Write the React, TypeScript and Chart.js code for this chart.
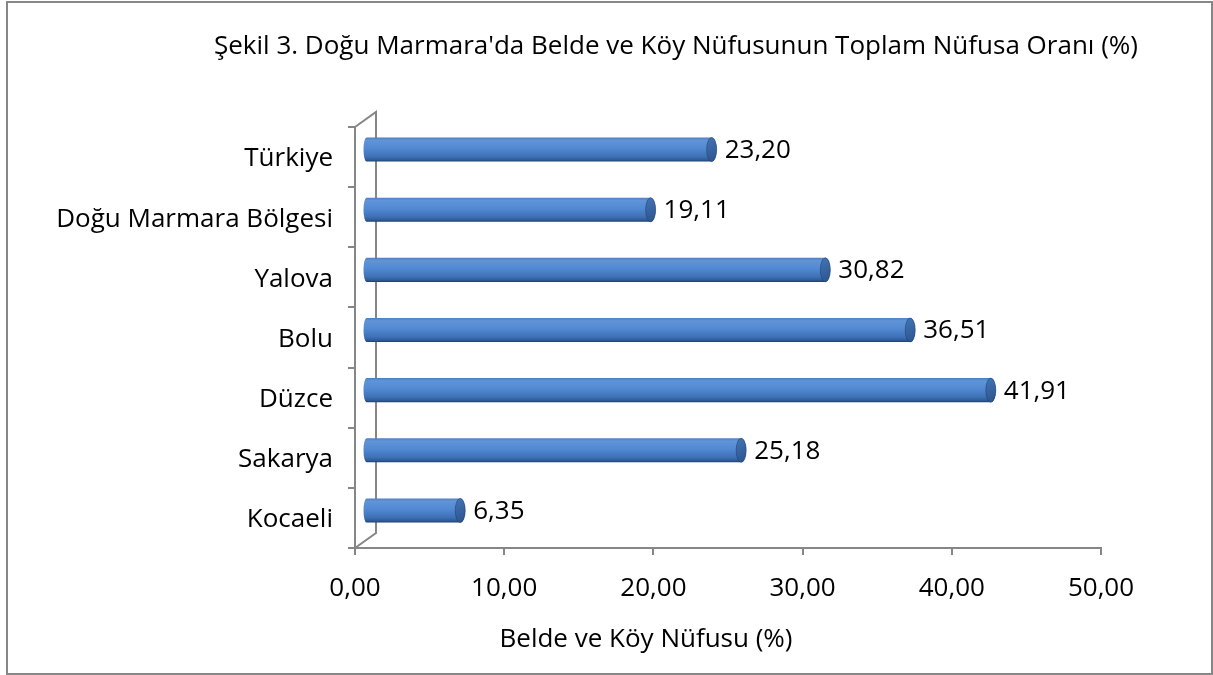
import React, { useEffect, useRef } from "react";
import { Chart, registerables } from "chart.js";

Chart.register(...registerables);

const categories = [
  "Türkiye",
  "Doğu Marmara Bölgesi",
  "Yalova",
  "Bolu",
  "Düzce",
  "Sakarya",
  "Kocaeli",
];
const values = [23.2, 19.11, 30.82, 36.51, 41.91, 25.18, 6.35];
const xMin = 0;
const xMax = 50;
const xStep = 10;
const titleText =
  "Şekil 3. Doğu Marmara'da Belde ve Köy Nüfusunun Toplam Nüfusa Oranı (%)";
const axisTitleText = "Belde ve Köy Nüfusu (%)";

const FONT = "'Open Sans', 'Noto Sans', sans-serif";
const FONT_SIZE = 26;
const GRAY = "#868686";

const fmt = (v: number) => v.toFixed(2).replace(".", ",");

export default function App() {
  const ref = useRef<HTMLCanvasElement | null>(null);

  useEffect(() => {
    if (!ref.current) return;
    const wallDx = 21;
    const wallDy = -15;
    const barDx = wallDx / 2;
    const barDy = wallDy / 2;

    const decor = {
      id: "decor",
      beforeDatasetsDraw(chart: any) {
        const { ctx, chartArea } = chart;
        const { left, top, bottom } = chartArea;
        ctx.save();
        ctx.strokeStyle = GRAY;
        ctx.lineWidth = 2;
        ctx.beginPath();
        ctx.moveTo(left, top);
        ctx.lineTo(left + wallDx, top + wallDy);
        ctx.lineTo(left + wallDx, bottom + wallDy);
        ctx.lineTo(left, bottom);
        ctx.stroke();
        ctx.restore();
      },
      afterDatasetsDraw(chart: any) {
        const { ctx } = chart;
        const meta = chart.getDatasetMeta(0);
        ctx.save();
        meta.data.forEach((el: any, i: number) => {
          const p = el.getProps(["x", "y", "base", "height"], true);
          const x0 = p.base + barDx;
          const x1 = p.x + barDx;
          const yc = p.y + barDy;
          const ry = p.height / 2;
          const rx = 5;
          const g = ctx.createLinearGradient(0, yc - ry, 0, yc + ry);
          g.addColorStop(0, "#4f7fc0");
          g.addColorStop(0.12, "#6194d8");
          g.addColorStop(0.45, "#5189d2");
          g.addColorStop(0.78, "#3f72b7");
          g.addColorStop(0.92, "#305d9a");
          g.addColorStop(1, "#223f6a");
          ctx.beginPath();
          ctx.moveTo(x0, yc - ry);
          ctx.lineTo(x1, yc - ry);
          ctx.ellipse(x1, yc, rx, ry, 0, -Math.PI / 2, Math.PI / 2);
          ctx.lineTo(x0, yc + ry);
          ctx.ellipse(x0, yc, rx * 0.6, ry, 0, Math.PI / 2, (Math.PI * 3) / 2);
          ctx.closePath();
          ctx.fillStyle = g;
          ctx.fill();
          // right cap
          const gc = ctx.createLinearGradient(x1 - rx, yc - ry, x1 + rx, yc + ry);
          gc.addColorStop(0, "#4474b5");
          gc.addColorStop(1, "#2b548c");
          ctx.beginPath();
          ctx.ellipse(x1, yc, rx, ry, 0, 0, Math.PI * 2);
          ctx.fillStyle = gc;
          ctx.fill();
          ctx.strokeStyle = "rgba(30,60,100,0.5)";
          ctx.lineWidth = 1;
          ctx.stroke();
          // data label
          ctx.fillStyle = "#000";
          ctx.font = `${FONT_SIZE}px ${FONT}`;
          ctx.textAlign = "left";
          ctx.textBaseline = "middle";
          ctx.fillText(fmt(values[i]), x1 + rx + 8, yc + 1);
        });
        ctx.restore();
      },
      afterDraw(chart: any) {
        const { ctx } = chart;
        ctx.save();
        ctx.strokeStyle = "#878787";
        ctx.lineWidth = 2;
        ctx.strokeRect(7, 2, 1205, 672);
        ctx.fillStyle = "#000";
        ctx.font = `${FONT_SIZE}px ${FONT}`;
        ctx.textAlign = "center";
        ctx.textBaseline = "middle";
        ctx.fillText(titleText, 676, 47);
        ctx.fillText(axisTitleText, 646, 640);
        ctx.restore();
      },
    };

    const chart = new Chart(ref.current, {
      type: "bar",
      data: {
        labels: categories,
        datasets: [
          {
            data: values,
            backgroundColor: "rgba(0,0,0,0)",
            borderWidth: 0,
            barPercentage: 0.4,
            categoryPercentage: 1,
          },
        ],
      },
      options: {
        indexAxis: "y",
        animation: false,
        responsive: false,
        devicePixelRatio: 1,
        layout: { padding: { top: 127, right: 112, bottom: 67, left: 0 } },
        plugins: {
          legend: { display: false },
          title: { display: false },
          tooltip: { enabled: false },
        },
        scales: {
          x: {
            type: "linear",
            min: xMin,
            max: xMax,
            afterFit: (s: any) => {
              s.height = 60;
            },
            ticks: {
              stepSize: xStep,
              color: "#000",
              font: { family: FONT, size: FONT_SIZE },
              padding: 18,
              maxRotation: 0,
              callback: (v: any) => fmt(Number(v)),
            },
            grid: {
              drawOnChartArea: false,
              drawTicks: true,
              tickLength: 7,
              color: GRAY,
              lineWidth: 2,
            },
            border: { display: true, color: GRAY, width: 2 },
          },
          y: {
            type: "category",
            afterFit: (s: any) => {
              s.width = 355;
            },
            ticks: {
              color: "#000",
              font: { family: FONT, size: FONT_SIZE },
              padding: 15,
              labelOffset: 2,
            },
            grid: {
              offset: true,
              drawOnChartArea: false,
              drawTicks: true,
              tickLength: 7,
              color: GRAY,
              lineWidth: 2,
            },
            border: { display: true, color: GRAY, width: 2 },
          },
        },
      },
      plugins: [decor],
    } as any);
    return () => chart.destroy();
  }, []);

  return (
    <div style={{ position: "fixed", left: 0, top: 0, width: 1213, height: 675, background: "#fff" }}>
      <canvas ref={ref} width={1213} height={675} style={{ display: "block" }} />
    </div>
  );
}
